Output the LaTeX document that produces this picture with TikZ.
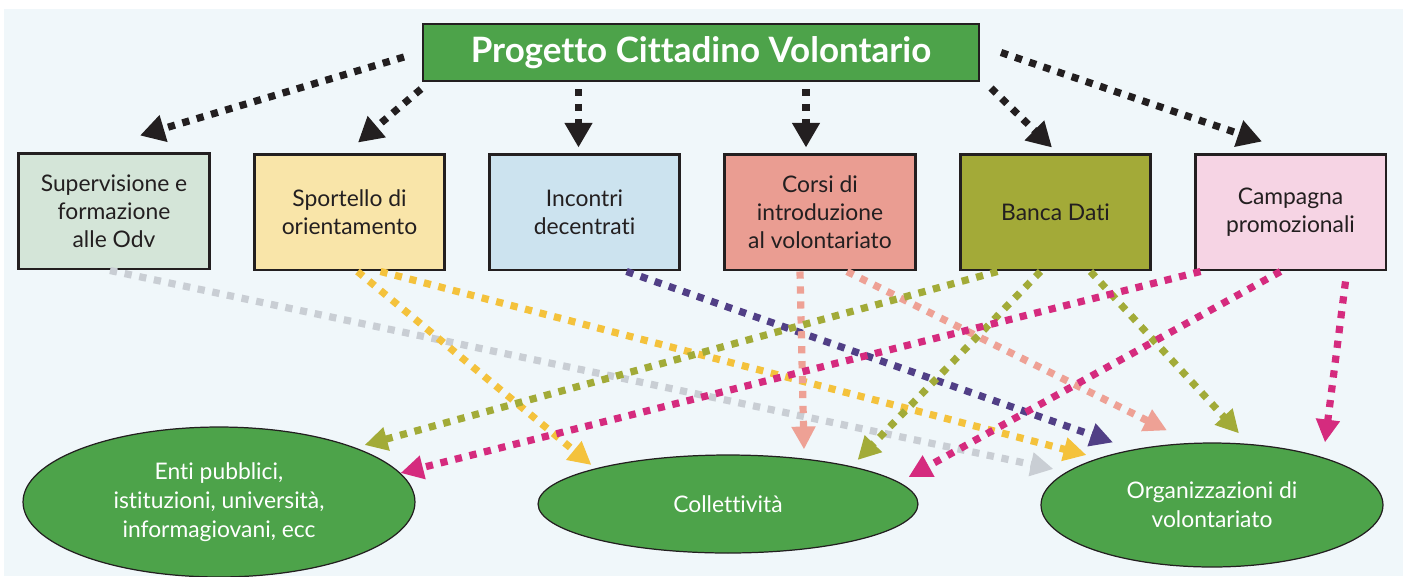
\documentclass[tikz,border=0pt]{standalone}
\usepackage{fontspec}
\setmainfont{Lato}[Ligatures=NoCommon]
\usepackage{tikz}
\usetikzlibrary{arrows.meta,shapes,positioning,calc}
\definecolor{bgblue}{HTML}{F0F7FA}
\definecolor{ink}{HTML}{231F20}
\definecolor{leafgreen}{HTML}{4DA34A}
\definecolor{supfill}{HTML}{D4E5D8}
\definecolor{spofill}{HTML}{F9E5A9}
\definecolor{incfill}{HTML}{CCE3EF}
\definecolor{corfill}{HTML}{EA9D92}
\definecolor{banfill}{HTML}{A3AA38}
\definecolor{camfill}{HTML}{F6D4E4}
\definecolor{greyline}{HTML}{C9CED4}
\definecolor{yellowline}{HTML}{F4C23C}
\definecolor{purpleline}{HTML}{513F86}
\definecolor{salmonline}{HTML}{EEA195}
\definecolor{oliveline}{HTML}{A2AB38}
\definecolor{magentaline}{HTML}{D52B7E}
\tikzset{
    box/.style={draw=ink,line width=1.7pt,minimum width=3.82cm,minimum height=2.32cm,align=center,inner sep=2pt,text=ink,font=\fontsize{13}{16}\selectfont},
    oval/.style={draw=ink,line width=0.7pt,ellipse,fill=leafgreen,align=center,inner sep=0pt,text=white,font=\fontsize{13}{16.4}\selectfont},
    dots/.style={line width=4.1pt,dash pattern=on 4.1pt off 4.4pt},
}

\begin{document}
\begin{tikzpicture}[x=0.02cm, y=-0.02cm, link/.style={dots, -{Triangle[length=13pt,width=13pt]}}, feed/.style={dots, ink, -{Triangle[length=14pt,width=15pt]}}]
% Canvas
                \useasboundingbox (0,0) rectangle (1407,576);
                \fill[bgblue] (4,9) rectangle (1403,576);
% --- Title ---
                \node[draw=ink, line width=1.2pt, fill=leafgreen, minimum width=11.12cm, minimum height=1.14cm, text=white, font=\fontsize{19.9}{22}\selectfont\bfseries] (pcv) at (701,52.5) {Progetto Cittadino Volontario};
% --- Activities (row of boxes) ---
                \node[box, fill=supfill] (sup) at (114,211) {Supervisione e\\formazione\\alle Odv};
                \node[box, fill=spofill] (spo) at (349.5,212) {Sportello di\\orientamento};
                \node[box, fill=incfill] (inc) at (584.5,212) {Incontri\\decentrati};
                \node[box, fill=corfill] (cor) at (820,212) {Corsi di\\introduzione\\al volontariato};
                \node[box, fill=banfill] (ban) at (1055.5,212) {Banca Dati};
                \node[box, fill=camfill] (cam) at (1290.5,212) {Campagna\\promozionali};
% --- Targets (ovals) ---
                \node[oval, minimum width=7.84cm, minimum height=3cm] (enti) at (219,502) {Enti pubblici,\\istituzioni, università,\\informagiovani, ecc};
                \node[oval, minimum width=7.6cm, minimum height=1.96cm] (coll) at (728,504) {Collettività};
                \node[oval, minimum width=6.84cm, minimum height=2.48cm] (odv) at (1212,505) {Organizzazioni di\\volontariato};
% --- Project to activities ---
                \draw[feed] ($(pcv.west)+(-18,4.5)$) -- ($(sup.north)+(26,-16)$);
                \draw[feed] ($(pcv.south west)+(-1,7)$) -- ($(spo.north)+(8.5,-10)$);
                \draw[feed] ($(pcv.south -| inc.north)+(-6,7)$) -- ($(inc.north)+(-6,-5)$);
                \draw[feed] ($(pcv.south -| cor.north)+(-14,7)$) -- ($(cor.north)+(-14,-5)$);
                \draw[feed] ($(pcv.south east)+(11,6)$) -- ($(ban.north)+(-3.5,-5)$);
                \draw[feed] ($(pcv.east)+(21,0)$) -- ($(cam.north)+(-28.5,-11)$);
% --- Activities to targets ---
                \draw[link, greyline] ($(sup.south)+(-4,0)$) -- ($(odv.west)+(13,-36)$);
                \draw[link, yellowline] ($(spo.south)+(8,0)$) -- ($(coll.west)+(54,-39)$);
                \draw[link, yellowline] ($(spo.south)+(31,0)$) -- ($(odv.west)+(46,-50)$);
                \draw[link, purpleline] ($(inc.south)+(42,0)$) -- ($(odv.north)+(-99,0)$);
                \draw[link, salmonline] ($(cor.south)+(-20,0)$) -- ($(coll.north)+(76,-5)$);
                \draw[link, salmonline] ($(cor.south)+(27,0)$) -- ($(odv.north)+(-45,-12)$);
                \draw[link, oliveline] ($(ban.south)+(-58,0)$) -- ($(enti.east)+(-51,-57)$);
                \draw[link, oliveline] ($(ban.south)+(-15,0)$) -- ($(coll.east)+(-61,-44)$);
                \draw[link, oliveline] ($(ban.south)+(35,0)$) -- ($(odv.north)+(27,-9)$);
                \draw[link, magentaline] ($(cam.south)+(-90,0)$) -- ($(enti.east)+(-15,-29)$);
                \draw[link, magentaline] ($(cam.south)+(-10,0)$) -- ($(coll.east)+(-10,-27)$);
                \draw[link, magentaline] ($(cam.south)+(55,10)$) -- ($(odv.north)+(113,0)$);
            \end{tikzpicture}
\end{document}
